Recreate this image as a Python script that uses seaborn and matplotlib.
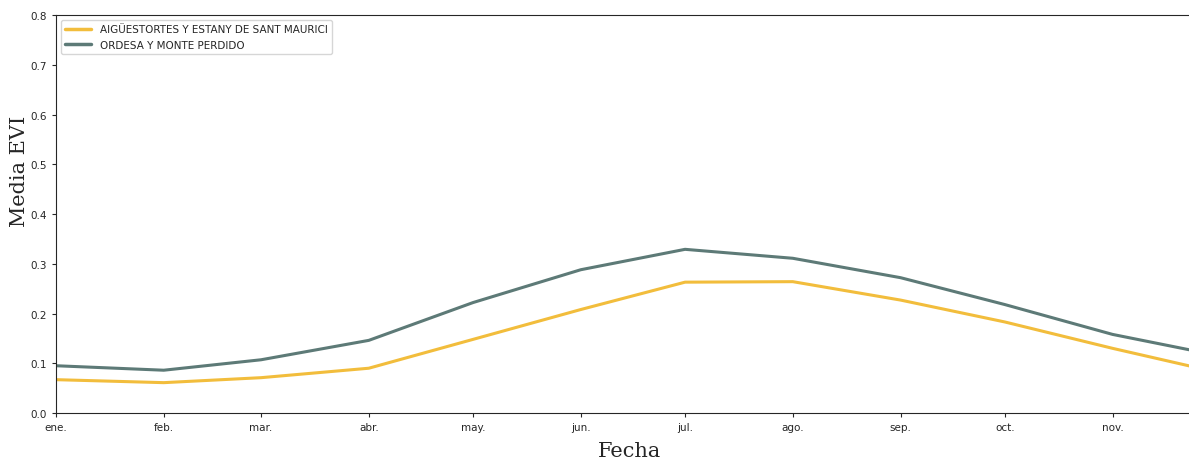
import pandas as pd
import seaborn as sns
import matplotlib.pyplot as plt
import matplotlib.dates as mdates
from matplotlib.ticker import FuncFormatter

# Monthly mean EVI per park (last value = 1 Dec, partly outside the view)
fechas = pd.date_range("2021-01-01", "2021-12-01", freq="MS")
aiguestortes = [0.067, 0.061, 0.071, 0.090, 0.148, 0.208, 0.263, 0.264, 0.227, 0.183, 0.130, 0.082]
ordesa = [0.095, 0.086, 0.107, 0.146, 0.222, 0.288, 0.329, 0.311, 0.272, 0.218, 0.158, 0.116]
parques = ["AIGÜESTORTES Y ESTANY DE SANT MAURICI", "ORDESA Y MONTE PERDIDO"]
colores = ["#f2bd3c", "#5d7a77"]
meses = ["ene.", "feb.", "mar.", "abr.", "may.", "jun.", "jul.", "ago.", "sep.", "oct.", "nov.", "dic."]

df = pd.concat([
    pd.DataFrame({"fecha": fechas, "evi": aiguestortes, "parque": parques[0]}),
    pd.DataFrame({"fecha": fechas, "evi": ordesa, "parque": parques[1]}),
])

sns.set_style("ticks")
plt.rcParams["font.family"] = ["DejaVu Sans"]

fig = plt.figure(figsize=(11.89, 4.6), dpi=100)
ax = fig.add_axes([0.0471, 0.1, 0.9529, 0.8652])

sns.lineplot(ax=ax, data=df, x="fecha", y="evi", hue="parque",
             palette=colores, linewidth=2.2)

ax.set_ylim(0, 0.8)
ax.set_xlim(pd.Timestamp("2021-01-01"), pd.Timestamp("2021-11-23"))
ax.xaxis.set_major_locator(mdates.MonthLocator())
ax.xaxis.set_major_formatter(FuncFormatter(lambda v, pos: meses[mdates.num2date(v).month - 1]))
ax.tick_params(labelsize=7.5, length=3)
ax.spines["right"].set_visible(False)

ax.set_xlabel("Fecha", fontsize=15, family="DejaVu Serif")
ax.set_ylabel("Media EVI", fontsize=15, family="DejaVu Serif")
ax.xaxis.set_label_coords(0.5066, -0.07)
ax.yaxis.set_label_coords(-0.024, 0.61)

leg = ax.legend(loc="upper left", fontsize=7.5, frameon=True, handlelength=2.5)
for line in leg.get_lines():
    line.set_linewidth(2.5)

fig.savefig("out.png", dpi=100)
